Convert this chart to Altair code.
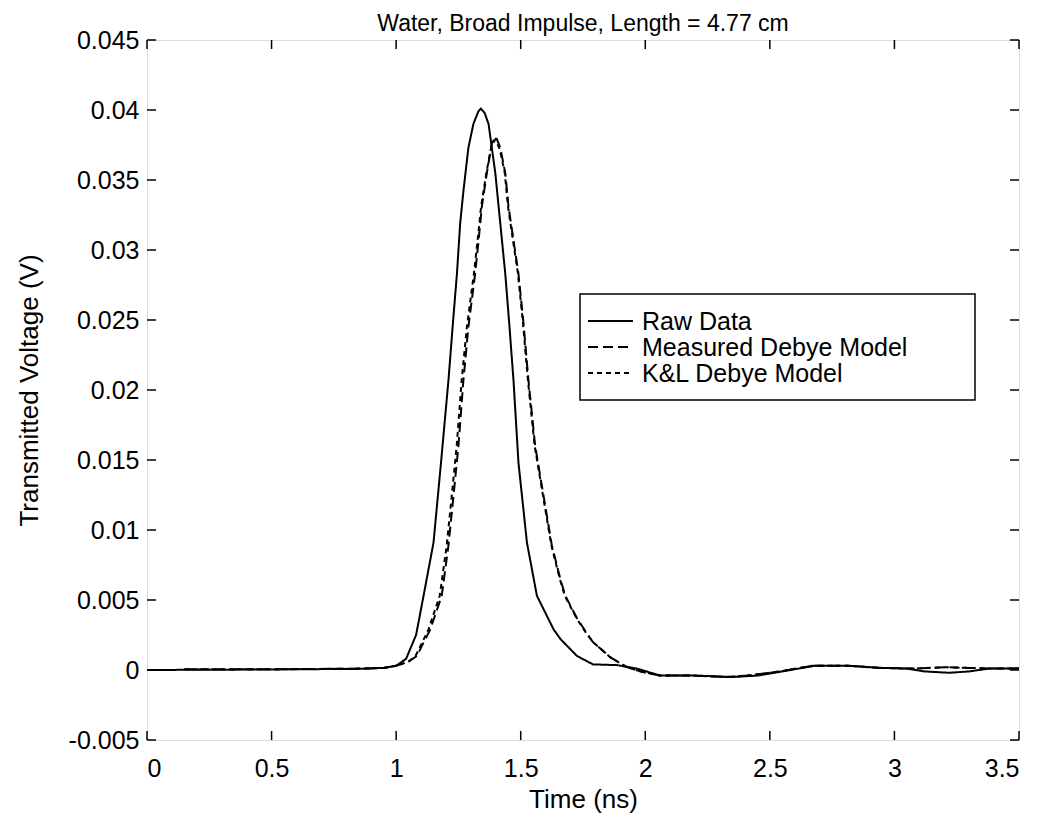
import altair as alt
import pandas as pd

# ---------------- data ----------------
series_names = ["Raw Data", "Measured Debye Model", "K&L Debye Model"]

raw_t = [0.00, 0.40, 0.85, 0.95, 1.00, 1.04, 1.08, 1.11, 1.15, 1.18, 1.21, 1.228, 1.244, 1.257,
         1.27, 1.29, 1.31, 1.33, 1.34, 1.355, 1.371, 1.398, 1.418, 1.438, 1.455, 1.471, 1.491,
         1.525, 1.565, 1.632, 1.66, 1.726, 1.79, 1.886, 1.967, 2.06, 2.2, 2.35, 2.45, 2.55,
         2.68, 2.82, 2.95, 3.05, 3.12, 3.22, 3.3, 3.38, 3.5]
raw_v = [0.0, 0.00003, 0.00008, 0.00015, 0.0003, 0.0008, 0.0025, 0.0053, 0.0091, 0.0148, 0.0207,
         0.0248, 0.0283, 0.0319, 0.0342, 0.0373, 0.0390, 0.0399, 0.0401, 0.0398, 0.0390, 0.0355,
         0.0319, 0.0283, 0.0245, 0.0207, 0.0148, 0.0091, 0.0053, 0.0029, 0.0022, 0.0010, 0.0004,
         0.00035, 0.0001, -0.0004, -0.0004, -0.0005, -0.0004, -0.0001, 0.0003, 0.0003, 0.00015,
         0.0001, -0.0001, -0.0002, -0.0001, 0.0001, 0.0001]

meas_t = [0.15, 0.5, 0.85, 0.95, 1.0, 1.05, 1.083, 1.137, 1.183, 1.21, 1.23, 1.25, 1.27, 1.29,
          1.317, 1.331, 1.344, 1.364, 1.384, 1.40, 1.418, 1.438, 1.451, 1.471, 1.491, 1.511,
          1.531, 1.558, 1.592, 1.625, 1.659, 1.679, 1.726, 1.766, 1.79, 1.86, 1.926, 1.99, 2.06,
          2.19, 2.33, 2.41, 2.54, 2.67, 2.81, 2.94, 3.08, 3.2, 3.3, 3.4, 3.5]
meas_v = [0.00005, 0.00005, 0.0001, 0.00015, 0.0003, 0.0006, 0.0010, 0.0029, 0.0053, 0.0089,
          0.0124, 0.0160, 0.0207, 0.0245, 0.0283, 0.0307, 0.0331, 0.0355, 0.0376, 0.0381, 0.0373,
          0.0355, 0.0331, 0.0307, 0.0283, 0.0248, 0.0207, 0.0160, 0.0124, 0.0089, 0.0065, 0.0053,
          0.0037, 0.0026, 0.0020, 0.0009, 0.0002, -0.00015, -0.0004, -0.0004, -0.0005, -0.0004,
          -0.0001, 0.0003, 0.0003, 0.00015, 0.0001, 0.0002, 0.00015, 0.0001, 0.0001]

kl_t = [0.15, 0.5, 0.85, 0.95, 1.0, 1.05, 1.078, 1.13, 1.175, 1.203, 1.223, 1.243, 1.263, 1.284,
        1.312, 1.327, 1.341, 1.362, 1.382, 1.398, 1.416, 1.436, 1.449, 1.469, 1.489, 1.509,
        1.529, 1.556, 1.59, 1.623, 1.657, 1.677, 1.724, 1.764, 1.79, 1.86, 1.926, 1.99, 2.06,
        2.19, 2.33, 2.41, 2.54, 2.67, 2.81, 2.94, 3.08, 3.2, 3.3, 3.4, 3.5]
kl_v = [0.00005, 0.00005, 0.0001, 0.00015, 0.0003, 0.0006, 0.0010, 0.0029, 0.0053, 0.0089,
        0.0124, 0.0160, 0.0207, 0.0245, 0.0283, 0.0307, 0.0331, 0.0355, 0.0374, 0.0379, 0.0372,
        0.0355, 0.0331, 0.0307, 0.0283, 0.0248, 0.0207, 0.0160, 0.0124, 0.0089, 0.0065, 0.0053,
        0.0037, 0.0026, 0.0020, 0.0009, 0.0002, -0.00015, -0.0004, -0.0004, -0.0005, -0.0004,
        -0.0001, 0.0003, 0.0003, 0.00015, 0.0001, 0.0002, 0.00015, 0.0001, 0.0001]

x_ticks = [0, 0.5, 1, 1.5, 2, 2.5, 3, 3.5]
y_ticks = [-0.005, 0, 0.005, 0.01, 0.015, 0.02, 0.025, 0.03, 0.035, 0.04, 0.045]

# ---------------- build table ----------------
rows = []
for name, ts, vs in zip(series_names, [raw_t, meas_t, kl_t], [raw_v, meas_v, kl_v]):
    for i, (t, v) in enumerate(zip(ts, vs)):
        rows.append({"t": t, "v": v, "s": name, "i": i})
df = pd.DataFrame(rows)

W, H = 872, 700
FONT = "Liberation Sans"
TL = 9

xs = alt.Scale(domain=[0, 3.5], nice=False, zero=False)
ys = alt.Scale(domain=[-0.005, 0.045], nice=False, zero=False)
dash_scale = alt.Scale(domain=series_names, range=[[1, 0], [10, 5], [5, 4]])

x_axis = alt.Axis(values=x_ticks, title="Time (ns)", labelExpr="toString(datum.value)",
                  tickSize=0, domain=False, grid=False, labelPadding=16, titlePadding=5,
                  labelFontSize=25, titleFontSize=26, labelFont=FONT, titleFont=FONT,
                  titleFontWeight="normal", labelColor="black", titleColor="black")
y_axis = alt.Axis(values=y_ticks, title="Transmitted Voltage (V)",
                  labelExpr="toString(datum.value)",
                  tickSize=0, domain=False, grid=False, labelPadding=8, titlePadding=26,
                  labelFontSize=25, titleFontSize=26, labelFont=FONT, titleFont=FONT,
                  titleFontWeight="normal", labelColor="black", titleColor="black")

lines = alt.Chart(df).mark_line(strokeWidth=2, color="black").encode(
    x=alt.X("t:Q", scale=xs, axis=x_axis),
    y=alt.Y("v:Q", scale=ys, axis=y_axis),
    strokeDash=alt.StrokeDash("s:N", scale=dash_scale, legend=None),
    order="i:Q",
)

tick_x_df = pd.DataFrame({"t": x_ticks})
tick_y_df = pd.DataFrame({"v": y_ticks})

bottom_ticks = alt.Chart(tick_x_df).mark_rule(color="black", strokeWidth=1.5).encode(
    x=alt.X("t:Q", scale=xs), y=alt.value(H), y2=alt.value(H - TL))
top_ticks = alt.Chart(tick_x_df).mark_rule(color="black", strokeWidth=1.5).encode(
    x=alt.X("t:Q", scale=xs), y=alt.value(0), y2=alt.value(TL))
left_ticks = alt.Chart(tick_y_df).mark_rule(color="black", strokeWidth=1.5).encode(
    y=alt.Y("v:Q", scale=ys), x=alt.value(0), x2=alt.value(TL))
right_ticks = alt.Chart(tick_y_df).mark_rule(color="black", strokeWidth=1.5).encode(
    y=alt.Y("v:Q", scale=ys), x=alt.value(W), x2=alt.value(W - TL))

# ---------------- legend (MATLAB-style box) ----------------
LX0, LX1, LY0, LY1 = 433, 828, 254, 360
ROW0, ROWH = 281, 26
legend_box = alt.Chart(pd.DataFrame({"b": [0]})).mark_rect(
    fill="white", stroke="black", strokeWidth=1.5).encode(
    x=alt.value(LX0), x2=alt.value(LX1), y=alt.value(LY0), y2=alt.value(LY1))

legend_layers = [legend_box]
for k, name in enumerate(series_names):
    d = pd.DataFrame({"s": [name]})
    yk = ROW0 + ROWH * k
    legend_layers.append(
        alt.Chart(d).mark_rule(color="black", strokeWidth=2).encode(
            x=alt.value(441), x2=alt.value(486), y=alt.value(yk),
            strokeDash=alt.StrokeDash("s:N", scale=dash_scale, legend=None)))
    legend_layers.append(
        alt.Chart(d).mark_text(align="left", baseline="middle", font=FONT, fontSize=25,
                               color="black").encode(
            x=alt.value(495), y=alt.value(yk + 1), text="s:N"))

chart = alt.layer(bottom_ticks, top_ticks, left_ticks, right_ticks, lines,
                  *legend_layers).properties(
    width=W, height=H,
    title=alt.TitleParams("Water, Broad Impulse, Length = 4.77 cm", fontSize=23, font=FONT,
                          fontWeight="normal", color="black", anchor="middle", offset=-8),
    autosize=alt.AutoSizeParams(type="none"),
    padding={"left": 139, "top": 32, "right": 14, "bottom": 73},
).configure_view(stroke="black", strokeWidth=2).configure(background="white")

chart.save("out.html", embed_options={"renderer": "svg", "actions": False})
